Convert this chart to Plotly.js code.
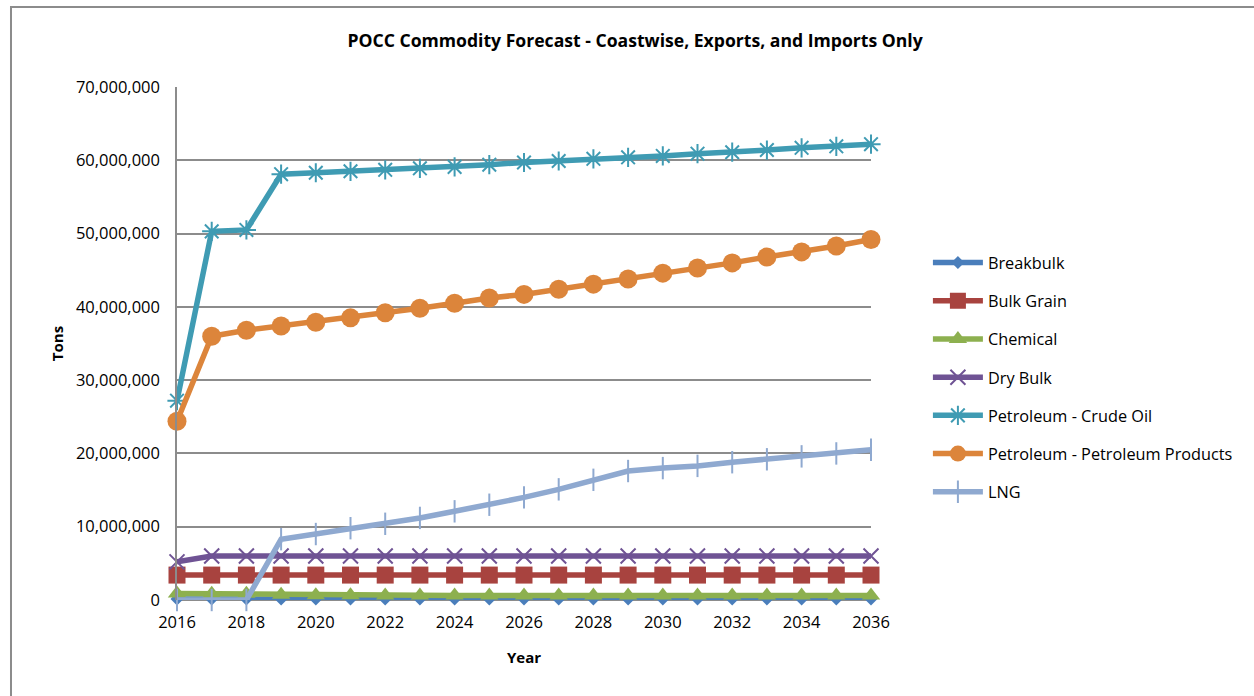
<!DOCTYPE html>
<html>
<head>
<meta charset="utf-8">
<script src="https://cdn.plot.ly/plotly-3.0.1.min.js"></script>
<style>
  html, body { margin: 0; padding: 0; background: #fff; }
  #chart { width: 1254px; height: 696px; }
</style>
</head>
<body>
<div id="chart"></div>
<script>
const years = [2016,2017,2018,2019,2020,2021,2022,2023,2024,2025,2026,2027,2028,2029,2030,2031,2032,2033,2034,2035,2036];

const breakbulk = [150000,150000,150000,150000,150000,150000,150000,150000,150000,150000,150000,150000,150000,150000,150000,150000,150000,150000,150000,150000,150000];
const bulkGrain = [3400000,3400000,3400000,3400000,3400000,3400000,3400000,3400000,3400000,3400000,3400000,3400000,3400000,3400000,3400000,3400000,3400000,3400000,3400000,3400000,3400000];
const chemical = [900000,850000,850000,700000,650000,650000,620000,620000,620000,620000,620000,620000,620000,620000,620000,620000,620000,620000,620000,620000,620000];
const dryBulk = [5200000,6000000,6000000,6000000,6000000,6000000,6000000,6000000,6000000,6000000,6000000,6000000,6000000,6000000,6000000,6000000,6000000,6000000,6000000,6000000,6000000];
const crudeOil = [27200000,50300000,50500000,58100000,58300000,58500000,58700000,58900000,59100000,59400000,59700000,59900000,60200000,60400000,60600000,60900000,61100000,61400000,61700000,61900000,62200000];
const petroProducts = [24400000,36000000,36800000,37400000,37900000,38500000,39200000,39800000,40500000,41200000,41700000,42400000,43100000,43800000,44600000,45300000,46000000,46800000,47500000,48300000,49200000];
const lng = [0,0,0,8300000,9000000,9800000,10400000,11200000,12100000,13000000,14000000,15100000,16400000,17600000,18000000,18300000,18800000,19200000,19600000,20000000,20500000];

const xTicks = [2016,2018,2020,2022,2024,2026,2028,2030,2032,2034,2036];

const seriesNames = ["Breakbulk","Bulk Grain","Chemical","Dry Bulk","Petroleum - Crude Oil","Petroleum - Petroleum Products","LNG"];
const seriesData = [breakbulk, bulkGrain, chemical, dryBulk, crudeOil, petroProducts, lng];
const colors = ["#4A7EBB","#A8433F","#8DB04F","#6F5394","#3F9BB3","#DC853B","#8FA9D0"];
const symbols = ["diamond","square","triangle-up","x-thin-open","asterisk-open","circle","line-ns-open"];
const sizes = [10,17,16,15,16,19,16];

const traces = seriesNames.map((name, i) => {
  const open = symbols[i].endsWith("open");
  return {
    type: "scatter",
    mode: "lines+markers",
    name: name,
    x: years,
    y: seriesData[i],
    cliponaxis: false,
    legendgroup: "g" + i,
    line: { color: colors[i], width: 5.5 },
    marker: {
      symbol: symbols[i],
      size: sizes[i],
      color: colors[i],
      line: { color: colors[i], width: open ? 2 : 0 }
    }
  };
});

const fontFam = "'Open Sans', 'Liberation Sans', sans-serif";

const layout = {
  width: 1254,
  height: 696,
  paper_bgcolor: "#ffffff",
  plot_bgcolor: "#ffffff",
  margin: { l: 177, r: 383, t: 87, b: 96, pad: 0 },
  font: { family: fontFam, color: "#000000", size: 14 },
  title: {
    text: "<b>POCC Commodity Forecast - Coastwise, Exports, and Imports Only</b>",
    font: { family: fontFam, size: 17.6, color: "#000000" },
    x: 0.5064, xref: "container", xanchor: "center",
    y: 0.942, yref: "container", yanchor: "middle"
  },
  xaxis: {
    range: [2016, 2036],
    tickvals: xTicks,
    ticktext: xTicks.map(String),
    showgrid: false,
    zeroline: false,
    showline: false,
    ticks: "",
    tickfont: { size: 16.5, color: "#000000" },
    ticklabelstandoff: 10,
    title: { text: "<b>Year</b>", font: { size: 15, color: "#000000" }, standoff: 20 }
  },
  yaxis: {
    range: [0, 70000000],
    dtick: 10000000,
    tickformat: ",d",
    showgrid: true,
    gridcolor: "#8C8C8C",
    gridwidth: 1.5,
    zeroline: true,
    zerolinecolor: "#8C8C8C",
    zerolinewidth: 1.5,
    showline: true,
    linecolor: "#8C8C8C",
    linewidth: 1.5,
    ticks: "",
    tickfont: { size: 16.5, color: "#000000" },
    ticklabelstandoff: 12,
    title: { text: "<b>Tons</b>", font: { size: 15, color: "#000000" }, standoff: 9 }
  },
  showlegend: true,
  legend: {
    x: 1.082, xanchor: "left",
    y: 0.691, yanchor: "top",
    traceorder: "grouped",
    tracegroupgap: 14,
    itemwidth: 50,
    font: { size: 16.3, color: "#000000" },
    bgcolor: "rgba(0,0,0,0)"
  },
  shapes: [{
    type: "rect", xref: "paper", yref: "paper",
    x0: -0.2392, x1: 1.5605, y0: -0.195, y1: 1.1559,
    line: { color: "#8C8C8C", width: 2 },
    fillcolor: "rgba(0,0,0,0)",
    layer: "below"
  }]
};

Plotly.newPlot("chart", traces, layout, { displayModeBar: false, responsive: false });
</script>
</body>
</html>
